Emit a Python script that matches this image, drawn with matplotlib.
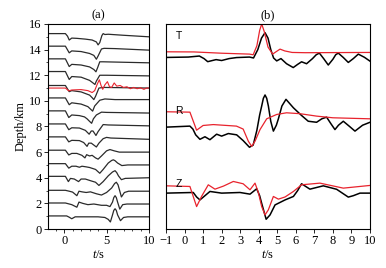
import matplotlib
matplotlib.use('Agg')
import matplotlib.pyplot as plt
from matplotlib.ticker import MultipleLocator, NullLocator

plt.rcParams['font.family'] = ['Liberation Serif', 'DejaVu Serif']
plt.rcParams['mathtext.fontset'] = 'custom'
plt.rcParams['mathtext.it'] = 'Liberation Serif:italic'
plt.rcParams['mathtext.rm'] = 'Liberation Serif'

## panel (a): waveforms at each source depth, (time s, amplitude) pairs
depths = [1, 2, 3, 4, 5, 6, 7, 8, 9, 10, 11, 12, 13, 14, 15]
trace_1 = [(-1.9, .02), (0.3, .02), (0.6, -.08), (0.9, -.2), (1.3, -.05), (2.0, -.05), (3.0, -.05),
           (4.0, -.05), (4.8, -.1), (5.2, -.25), (5.45, -.45), (5.7, .1), (5.85, .45), (6.0, .58),
           (6.15, .45), (6.3, .1), (6.64, -.35), (7.0, -.1), (7.5, -.05), (10, -.05)]
trace_2 = [(-1.9, .03), (0.15, .03), (0.9, -.1), (1.5, -.3), (1.75, .1), (2.2, .0), (2.8, -.1),
           (3.5, -.05), (4.4, -.15), (5.0, -.15), (5.4, -.25), (5.7, .1), (5.85, .45), (6.0, .6),
           (6.15, .45), (6.3, .1), (6.56, -.45), (6.9, -.1), (7.4, -.05), (10, -.05)]
trace_3 = [(-1.9, .02), (0.15, .02), (0.6, -.05), (1.0, -.12), (1.5, -.4), (1.75, -.05), (2.1, -.1),
           (2.6, -.15), (3.1, -.1), (3.8, -.25), (4.4, -.35), (5.0, -.15), (5.6, .2), (5.95, .55),
           (6.15, .65), (6.35, .45), (6.5, .1), (6.75, -.5), (7.1, -.15), (7.6, -.05), (10, -.05)]
trace_4 = [(-1.9, .11), (0.15, .11), (0.5, -.3), (0.75, -.05), (1.2, -.1), (1.7, -.3), (2.0, -.1),
           (2.5, -.1), (3.2, -.25), (3.7, -.35), (4.1, -.6), (4.6, -.3), (5.2, .15), (5.7, .45),
           (6.0, .55), (6.2, .4), (6.4, .15), (6.75, -.15), (7.2, -.05), (10, .0)]
trace_5 = [(-1.9, .1), (0.15, .1), (0.55, -.25), (0.9, -.1), (1.4, -.1), (1.8, -.18), (2.1, -.1),
           (2.6, -.15), (3.0, -.2), (3.7, -.35), (4.2, -.65), (4.6, -.35), (5.2, .15), (5.6, .35),
           (5.8, .4), (6.0, .33), (6.3, .15), (6.8, -.05), (7.5, .0), (10, .0)]
trace_6 = [(-1.9, .15), (0.15, .15), (0.55, -.22), (0.9, -.1), (1.5, -.1), (2.1, -.25), (2.45, -.45),
           (2.65, -.2), (3.0, -.3), (3.3, -.25), (3.7, -.45), (4.0, -.55), (4.4, -.3), (5.0, .1),
           (5.4, .2), (5.9, .1), (6.5, .0), (10, .0)]
trace_7 = [(-1.9, .19), (0.15, .19), (0.55, -.2), (0.9, -.08), (1.8, -.1), (2.3, -.25), (2.7, -.55),
           (2.9, -.3), (3.2, -.3), (3.5, -.45), (3.8, -.6), (4.1, -.3), (4.6, .05), (5.0, .15),
           (5.5, .1), (10, .0)]
trace_8 = [(-1.9, .2), (0.15, .2), (0.55, -.25), (0.9, -.1), (1.8, -.12), (2.5, -.3), (2.95, -.6),
           (3.2, -.35), (3.4, -.35), (3.75, -.7), (4.0, -.4), (4.6, .15), (5.2, .12), (10, .05)]
trace_9 = [(-1.9, .22), (0.15, .22), (0.55, -.3), (0.9, -.1), (1.8, -.15), (2.4, -.25), (2.7, -.4),
           (3.0, -.6), (3.24, -.75), (3.45, -.4), (3.8, -.1), (4.4, .12), (5, .1), (10, .05)]
trace_10 = [(-1.9, .23), (0.15, .23), (0.6, -.3), (0.9, -.15), (2, -.25), (2.8, -.45), (3.2, -.7),
            (3.36, -.8), (3.6, -.4), (4.2, .05), (4.8, .15), (6, .1), (10, .1)]
trace_11 = [(-1.9, .2), (0.15, .2), (0.6, -.28), (0.9, -.2), (2, -.3), (3, -.55), (3.3, -.75),
            (3.5, -.9), (3.7, -.65), (4.1, .0), (4.6, .05), (10, .0)]
trace_12 = [(-1.9, .29), (0.15, .29), (0.6, -.33), (0.9, -.1), (2, -.15), (3, -.4), (3.4, -.6),
            (3.63, -.72), (3.8, -.45), (4.2, .0), (5, .0), (10, -.05)]
trace_13 = [(-1.9, .28), (0.15, .28), (0.6, -.32), (0.9, -.15), (2, -.2), (3, -.35), (3.5, -.55),
            (3.75, -.73), (3.95, -.4), (4.2, .05), (4.6, .05), (10, -.03)]
trace_14 = [(-1.9, .27), (0.15, .27), (0.6, -.25), (0.9, -.1), (2, -.15), (3, -.3), (3.5, -.45),
            (3.8, -.75), (4.0, -.5), (4.4, .05), (4.7, .1), (6, .08), (10, -.04)]
trace_15 = [(-1.9, .25), (0.15, .25), (0.4, .05), (0.6, -.25), (0.9, -.1), (1.5, -.12), (2.5, -.18),
            (3.3, -.25), (3.8, -.4), (4.0, -.63), (4.2, -.45), (4.45, .1), (4.6, .25), (4.8, .18),
            (5.2, .2), (7, .12), (10, .0)]
red_depth = 11
trace_red = [(-1.9, 0), (0.15, 0), (0.55, -.22), (0.9, -.15), (2, -.12), (2.8, -.2), (3.3, -.35),
             (3.6, -.2), (3.9, .3), (4.15, .65), (4.35, .2), (4.55, -.1), (4.8, .25), (5.1, .5),
             (5.35, .1), (5.6, .05), (5.9, .4), (6.2, .15), (6.6, .2), (7.0, .05), (7.4, .1),
             (7.8, -.05), (8.2, .05), (8.6, -.05), (9.0, .02), (9.4, -.1), (9.7, 0.0), (10, 0.0)]
traces_a = [trace_1, trace_2, trace_3, trace_4, trace_5, trace_6, trace_7, trace_8,
            trace_9, trace_10, trace_11, trace_12, trace_13, trace_14, trace_15]

## panel (b): T, R, Z components, observed (black) and synthetic (red)
T_black = [(-1, 13.39), (0.2, 13.42), (0.8, 13.5), (1.05, 13.3), (1.25, 13.06), (1.5, 13.15),
           (1.7, 13.22), (2.0, 13.15), (2.4, 13.3), (2.8, 13.38), (3.5, 13.42), (3.72, 13.35),
           (3.95, 14.0), (4.15, 14.9), (4.34, 15.32), (4.5, 14.9), (4.65, 14.0), (4.8, 13.35),
           (4.97, 13.12), (5.2, 13.3), (5.5, 12.9), (5.86, 12.6), (6.1, 12.85), (6.31, 13.05),
           (6.58, 12.9), (6.9, 13.3), (7.1, 13.6), (7.27, 13.73), (7.5, 13.3), (7.75, 12.8),
           (8.0, 13.25), (8.15, 13.6), (8.29, 13.73), (8.55, 13.4), (8.83, 13.0), (9.1, 13.3),
           (9.37, 13.65), (9.7, 13.4), (10, 13.1)]
T_red = [(-1, 13.83), (0.5, 13.82), (2, 13.72), (3.5, 13.65), (3.7, 13.6), (3.9, 14.3),
         (4.05, 15.5), (4.16, 16.0), (4.3, 15.4), (4.5, 14.2), (4.75, 13.65), (4.95, 13.85),
         (5.15, 14.04), (5.4, 13.9), (5.8, 13.78), (6.5, 13.76), (10, 13.78)]
R_black = [(-1, 7.95), (0.29, 8.03), (0.45, 7.8), (0.6, 7.35), (0.83, 7.0), (1.1, 7.2), (1.37, 6.97),
           (1.73, 7.4), (2.0, 7.25), (2.36, 7.45), (2.81, 7.35), (3.16, 6.9), (3.5, 6.38),
           (3.7, 6.55), (3.9, 7.7), (4.05, 8.9), (4.16, 9.6), (4.25, 10.2), (4.34, 10.46),
           (4.43, 10.2), (4.52, 9.6), (4.65, 8.4), (4.79, 7.64), (4.95, 8.1), (5.06, 8.6),
           (5.25, 9.6), (5.47, 10.12), (5.87, 9.46), (6.31, 8.86), (6.67, 8.41), (7.12, 8.33),
           (7.4, 8.6), (7.66, 8.73), (7.9, 8.2), (8.11, 7.76), (8.3, 8.1), (8.56, 8.41),
           (8.9, 8.0), (9.19, 7.64), (9.6, 8.1), (10, 8.33)]
R_red = [(-1, 9.15), (0.29, 9.12), (0.5, 8.3), (0.65, 7.71), (1.0, 8.08), (1.55, 8.15), (2.8, 8.03),
         (3.16, 7.8), (3.44, 6.85), (3.62, 6.45), (3.8, 6.85), (4.07, 7.76), (4.43, 8.6),
         (4.97, 8.94), (5.5, 9.07), (6.22, 9.0), (7.12, 8.81), (8.0, 8.68), (10, 8.6)]
Z_black = [(-1, 2.8), (0.47, 2.85), (0.65, 2.5), (0.83, 2.27), (1.1, 2.6), (1.37, 2.93), (2.0, 2.8),
           (2.99, 2.85), (3.53, 2.72), (3.89, 3.14), (4.05, 2.6), (4.16, 2.0), (4.4, 0.76),
           (4.61, 1.1), (4.88, 1.88), (5.42, 2.27), (5.87, 2.54), (6.1, 3.0), (6.31, 3.53),
           (6.76, 3.11), (7.48, 3.37), (8.2, 3.1), (8.83, 2.49), (9.1, 2.6), (9.46, 2.8), (10, 2.8)]
Z_red = [(-1, 3.37), (0.29, 3.32), (0.5, 2.4), (0.65, 1.75), (0.92, 2.55), (1.28, 3.45),
         (1.64, 3.11), (2.1, 3.35), (2.63, 3.71), (3.16, 3.53), (3.53, 3.06), (3.8, 3.58),
         (3.98, 2.85), (4.16, 1.75), (4.34, 1.1), (4.52, 1.5), (4.79, 2.54), (5.06, 2.33),
         (5.42, 2.5), (5.87, 2.93), (6.31, 3.45), (7.3, 3.58), (8.56, 3.19), (10, 3.4)]
comp_labels = ['T', 'R', 'Z']
comp_label_y = [15.05, 9.2, 3.55]

red = '#e8232d'

fig = plt.figure(figsize=(3.86, 2.68), dpi=100)
ax1 = fig.add_axes([48 / 386, 39 / 268, 101 / 386, 205 / 268])
ax2 = fig.add_axes([166 / 386, 39 / 268, 204 / 386, 205 / 268])

for d, tr in zip(depths, traces_a):
    t, v = zip(*tr)
    ax1.plot(t, [d + a for a in v], color='#2b2b2b', linewidth=0.9)
t, v = zip(*trace_red)
ax1.plot(t, [red_depth + a for a in v], color=red, linewidth=0.8)

ax1.set_xlim(-1.9, 10)
ax1.set_ylim(0, 16)
ax1.xaxis.set_major_locator(MultipleLocator(5))
ax1.xaxis.set_minor_locator(MultipleLocator(1))
ax1.yaxis.set_major_locator(MultipleLocator(2))
ax1.yaxis.set_minor_locator(MultipleLocator(1))
ax1.set_ylabel('Depth/km', fontsize=9, labelpad=2)
ax1.set_xlabel('$t$/s', fontsize=9, labelpad=1)
ax1.set_title('(a)', fontsize=9, pad=4)

for comp in [(T_black, T_red), (R_black, R_red), (Z_black, Z_red)]:
    t, v = zip(*comp[0])
    ax2.plot(t, v, color='black', linewidth=1.1)
    t, v = zip(*comp[1])
    ax2.plot(t, v, color=red, linewidth=0.9)
for lab, y in zip(comp_labels, comp_label_y):
    ax2.text(-0.3, y, lab, fontsize=7.5, family=['Liberation Sans', 'DejaVu Sans'],
             ha='center', va='center')

ax2.set_xlim(-1, 10)
ax2.set_ylim(0, 16)
ax2.xaxis.set_major_locator(MultipleLocator(1))
ax2.yaxis.set_major_locator(NullLocator())
ax2.set_xlabel('$t$/s', fontsize=9, labelpad=1)
ax2.set_title('(b)', fontsize=9, pad=4)

for ax in (ax1, ax2):
    ax.tick_params(which='major', direction='out', length=3, width=0.6, labelsize=9, pad=1.5)
    ax.tick_params(which='minor', direction='out', length=1.5, width=0.5)
    for s in ax.spines.values():
        s.set_linewidth(0.8)

plt.savefig('out.png', dpi=100)
plt.close()
